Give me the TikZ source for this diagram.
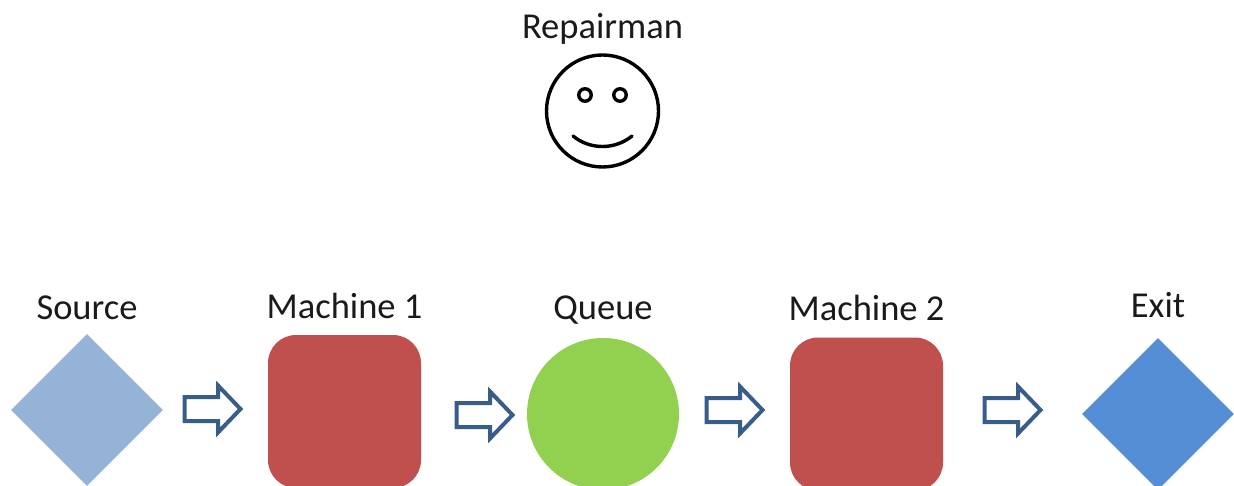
\documentclass[tikz,border=0pt]{standalone}
\usepackage{fontspec}
\setmainfont{Carlito}
\usetikzlibrary{shapes.geometric}
\definecolor{srcblue}{HTML}{95B3D7}
\definecolor{exitblue}{HTML}{558ED5}
\definecolor{machred}{HTML}{C0504D}
\definecolor{queuegreen}{HTML}{92D050}
\definecolor{arrowblue}{HTML}{385D8A}
\definecolor{labelgrey}{HTML}{1A1A1A}
\tikzset{
  x=1pt,y=-1pt,
  lbl/.style={font=\fontsize{36.5}{40}\selectfont,text=labelgrey,inner sep=0pt,anchor=base},
  dia/.style={shape=diamond,aspect=1,inner sep=0pt,minimum width=152pt,minimum height=152pt},
  machinebox/.style={shape=rectangle,fill=machred,rounded corners=28pt,inner sep=0pt,minimum width=153pt,minimum height=153pt},
  facestroke/.style={draw=black,line width=3.4pt},
  eyestroke/.style={shape=circle,draw=black,line width=3.4pt,inner sep=0pt,minimum size=12.5pt},
  blockarrow/.pic={
    \draw[arrowblue,line width=4pt,fill=white,line join=miter]
      (-28.5,-12) -- (5,-12) -- (5,-23.5) -- (27.5,0) -- (5,23.5) -- (5,12) -- (-28.5,12) -- cycle;
  }
}
\begin{document}
\begin{tikzpicture}
\useasboundingbox (0,0) rectangle (1234,486);
\clip (0,0) rectangle (1234,486);
\node[lbl] (repair) at (602.5,38.5) {Repairman};
\node[lbl] (srcl) at (87,319.5) {Source};
\node[lbl] (m1l) at (344.5,318.5) {Machine 1};
\node[lbl] (ql) at (603,319.5) {Queue};
\node[lbl] (m2l) at (866.5,320.5) {Machine 2};
\node[lbl] (exl) at (1158,317.5) {Exit};

\node[dia,fill=srcblue] (source) at (87,410) {};
\node[machinebox] (machine1) at (344.5,411.5) {};
\node[shape=circle,fill=queuegreen,inner sep=0pt,minimum size=152pt] (queue) at (603,414) {};
\node[machinebox] (machine2) at (866.5,414) {};
\node[dia,fill=exitblue] (exit) at (1158,414) {};

\pic at (213,409) {blockarrow};
\pic at (485,415) {blockarrow};
\pic at (735,410) {blockarrow};
\pic at (1013,410) {blockarrow};

\node[shape=circle,facestroke,inner sep=0pt,minimum size=112pt] (face) at (602.5,111) {};
\node[eyestroke] (eyel) at (585,95) {};
\node[eyestroke] (eyer) at (620,95) {};
\draw[facestroke,line cap=round] (573,136) .. controls (590,150) and (615,150) .. (632,136);
\end{tikzpicture}
\end{document}
